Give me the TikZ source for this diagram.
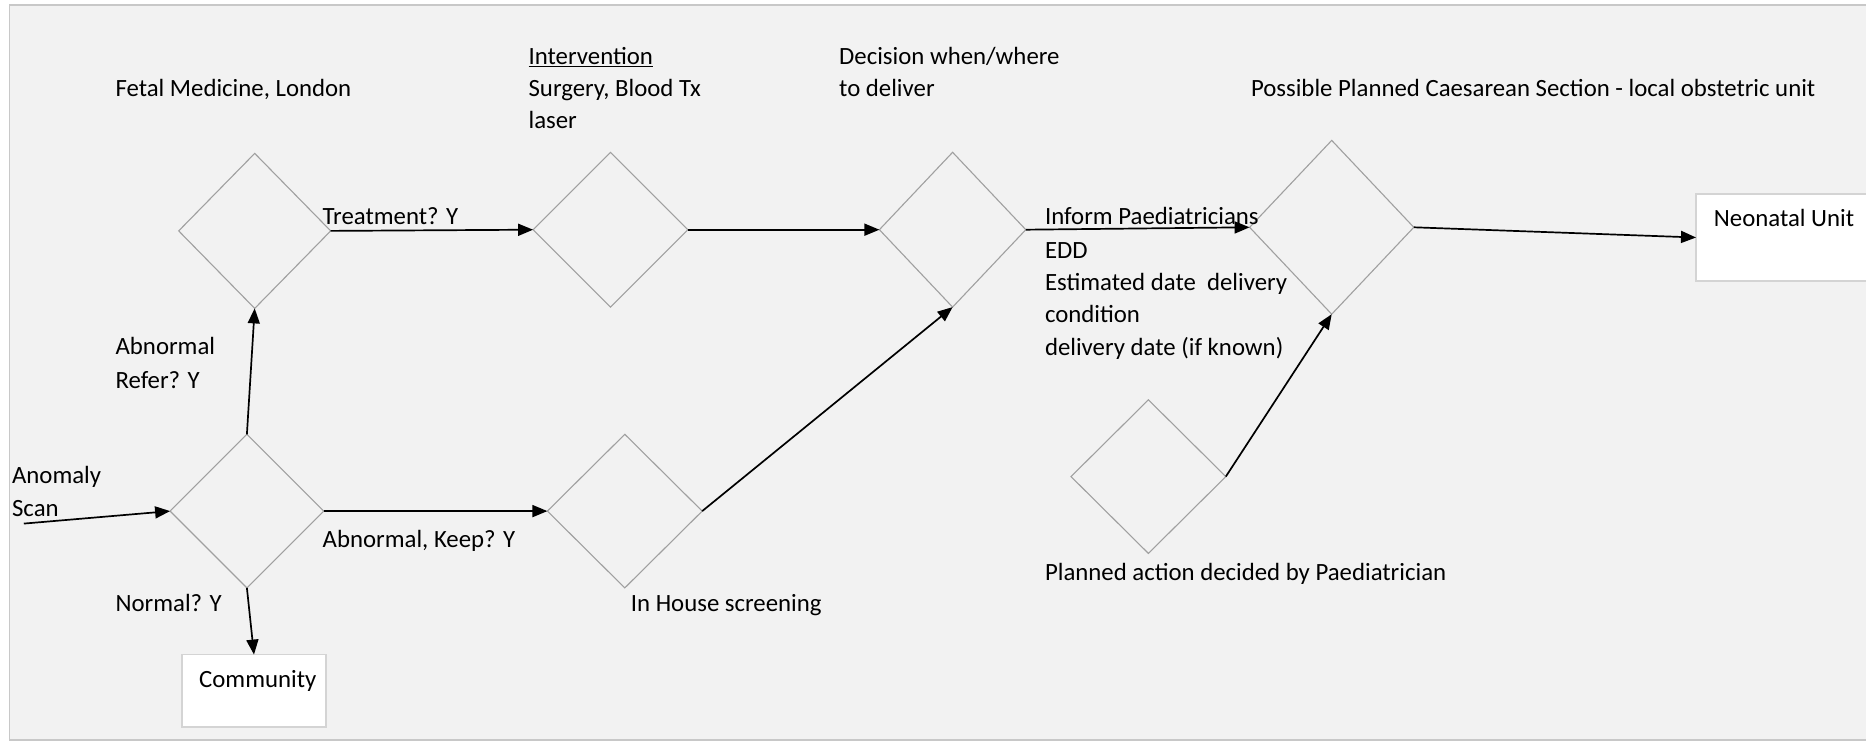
\documentclass[tikz,border=0pt]{standalone}
\usepackage{fontspec}
\setmainfont{Carlito}
\usetikzlibrary{arrows.meta,shapes.geometric,calc}
\definecolor{bg}{HTML}{F2F2F2}
\definecolor{framec}{HTML}{C8C8C8}
\definecolor{dline}{HTML}{A0A0A0}
\definecolor{bline}{HTML}{D4D4D4}
\begin{document}
\begin{tikzpicture}[x=1pt,y=-1pt,
  dia/.style={diamond, draw=dline, line width=1.1pt, inner sep=0pt, outer sep=0pt},
  arr/.style={draw=black, line width=1.7pt, -{Triangle[length=15pt,width=12pt]}},
  lbl/.style={anchor=base west, inner sep=0pt, font=\fontsize{24.8}{32.5}\selectfont},
  box/.style={draw=bline, fill=white, line width=1.2pt, inner sep=0pt, outer sep=0pt, anchor=north west}]
\useasboundingbox (0,0) rectangle (1866,743);
\clip (0,0) rectangle (1866,743);
\fill[white] (0,0) rectangle (1866,743);
\draw[framec, fill=bg, line width=1.2pt] (9.5,5) rectangle (1880,740);

% diamonds
\node[dia, minimum width=152pt, minimum height=155pt] (d1) at (254.7,230.9) {};
\node[dia, minimum width=154.8pt, minimum height=154.8pt] (d2) at (610.5,229.7) {};
\node[dia, minimum width=146.4pt, minimum height=154.8pt] (d3) at (952.6,229.7) {};
\node[dia, minimum width=164.2pt, minimum height=173.8pt] (d4) at (1331.7,227.3) {};
\node[dia, minimum width=153.6pt, minimum height=153.6pt] (d5) at (246.9,511.1) {};
\node[dia, minimum width=154.8pt, minimum height=153.6pt] (d6) at (624.8,511.1) {};
\node[dia, minimum width=154.8pt, minimum height=153.6pt] (d7) at (1148.4,476.6) {};

% boxes
\node[box, minimum width=144pt, minimum height=72.4pt] (comm) at (182,654.6) {};
\node[box, minimum width=200pt, minimum height=87pt] (neo) at (1696,194) {};
\node[lbl] (commt) at ($(comm.north west)+(17,32.9)$) {Community};
\node[lbl] (neot) at ($(neo.north west)+(17.7,32.2)$) {Neonatal Unit};

% connectors
\coordinate (scan) at (23.8,523.6);
\draw[arr] (scan) -- (d5.west);
\draw[arr] (d5.north) -- (d1.south);
\draw[arr] (d5.south) -- (comm.north);
\draw[arr] (d5.east) -- (d6.west);
\draw[arr] (d1.east) -- (d2.west);
\draw[arr] (d2.east) -- (d3.west);
\draw[arr] (d6.east) -- (d3.south);
\draw[arr] (d3.east) -- (d4.west);
\draw[arr] (d7.east) -- (d4.south);
\draw[arr] (d4.east) -- (neo.west);

% labels
\node[lbl] (t1) at (115.4,96.5) {Fetal Medicine, London};
\node[lbl] (t2a) at (528.4,64.4) {\underline{Intervention}};
\node[lbl] (t2b) at (528.4,96.5) {Surgery, Blood Tx};
\node[lbl] (t2c) at (528.4,128.5) {laser};
\node[lbl] (t3a) at (839,64.4) {Decision when/where};
\node[lbl] (t3b) at (839,96.5) {to deliver};
\node[lbl] (t4) at (1250.8,96.5) {Possible Planned Caesarean Section - local obstetric unit};
\node[lbl] (tt) at (322.5,225) {Treatment? Y};
\node[lbl] (ar1) at (115.4,354.5) {Abnormal};
\node[lbl] (ar2) at (115.4,388.1) {Refer? Y};
\node[lbl] (as1) at (11.9,483.3) {Anomaly};
\node[lbl] (as2) at (11.9,516.5) {Scan};
\node[lbl] (ak) at (322.5,547.5) {Abnormal, Keep? Y};
\node[lbl] (nm) at (115.4,611.5) {Normal? Y};
\node[lbl] (ih) at (630.7,611.5) {In House screening};
\node[lbl] (ip1) at (1044.8,225) {Inform Paediatricians};
\node[lbl] (ip2) at (1044.8,258.4) {EDD};
\node[lbl] (ip3) at (1044.8,290.5) {Estimated date\ \ delivery};
\node[lbl] (ip4) at (1044.8,322.5) {condition};
\node[lbl] (ip5) at (1044.8,355.9) {delivery date (if known)};
\node[lbl] (pa) at (1044.8,580.5) {Planned action decided by Paediatrician};
\end{tikzpicture}
\end{document}
